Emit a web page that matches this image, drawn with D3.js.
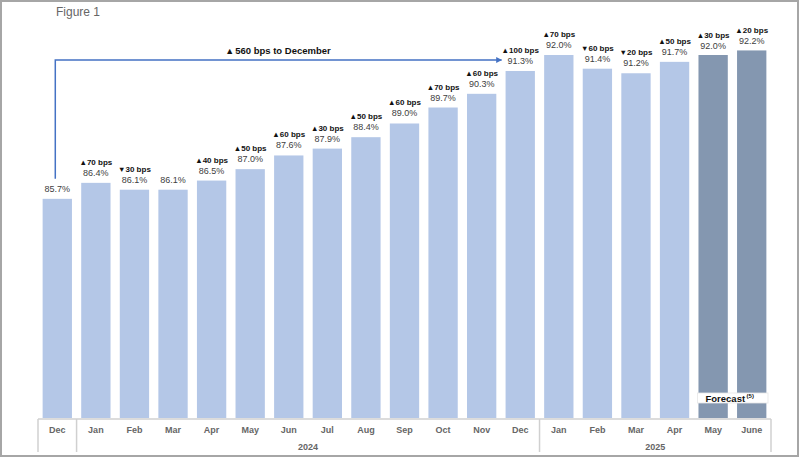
<!DOCTYPE html>
<html>
<head>
<meta charset="utf-8">
<script src="https://cdn.jsdelivr.net/npm/d3@7"></script>
<style>
  html, body { margin: 0; padding: 0; background: #fff; }
  svg { display: block; font-family: "Liberation Sans", Arial, sans-serif; }
</style>
</head>
<body>
<svg id="chart" width="800" height="459"></svg>
<script>
// ---- data ----
const months = ["Dec","Jan","Feb","Mar","Apr","May","Jun","Jul","Aug","Sep","Oct","Nov","Dec","Jan","Feb","Mar","Apr","May","June"];
const values = [85.7,86.4,86.1,86.1,86.5,87.0,87.6,87.9,88.4,89.0,89.7,90.3,91.3,92.0,91.4,91.2,91.7,92.0,92.2];
const changeDir = [null,"up","down",null,"up","up","up","up","up","up","up","up","up","up","down","down","up","up","up"];
const changeBps = [null,70,30,null,40,50,60,30,50,60,70,60,100,70,60,20,50,30,20];
const forecast = [false,false,false,false,false,false,false,false,false,false,false,false,false,false,false,false,false,true,true];
const years = [{label:"2024", from:1, to:12},{label:"2025", from:13, to:18}];
const annotationText = "560 bps to December";
const forecastLabel = "Forecast";
const forecastNote = "(5)";

// ---- layout ----
const svg = d3.select("#chart");
const W = 800, H = 459;
const idx = months.map((d,i)=>i);

const x = d3.scaleBand().domain(idx).range([38, 771]).paddingInner(0.24).paddingOuter(0.12);
const y = d3.scaleLinear().domain([76.1, 92.0]).range([418, 55]);
const step = x.step();
const gapHalf = step * x.paddingInner() / 2;

// frame
svg.append("rect").attr("x",1).attr("y",1).attr("width",W-3).attr("height",H-4)
  .attr("fill","#fff").attr("stroke","#a6a6a6").attr("stroke-width",2);

// title
svg.append("text").attr("x",56).attr("y",16).attr("font-size",12).attr("fill","#666")
  .text("Figure 1");

// bars
svg.append("g").selectAll("rect").data(idx).join("rect")
  .attr("x", i => x(i)).attr("width", x.bandwidth())
  .attr("y", i => y(values[i])).attr("height", i => y.range()[0] - y(values[i]))
  .attr("fill", i => forecast[i] ? "#8497b0" : "#b4c7e7");

// forecast gap
const fIdx = idx.filter(i => forecast[i]);
const fx0 = x(fIdx[0]) - 1, fx1 = x.range()[1] - 3;
svg.append("rect").attr("x", fx0).attr("y", 393).attr("width", fx1 - fx0).attr("height", 10)
  .attr("fill","#fff").attr("stroke","#e6e6e6").attr("stroke-width",0.8);
const ft = svg.append("text").attr("x", (fx0 + fx1)/2 - 3).attr("y", 401.5).attr("text-anchor","middle")
  .attr("font-size",9.5).attr("font-weight","bold").attr("fill","#111");
ft.append("tspan").text(forecastLabel);
ft.append("tspan").attr("font-size",6).attr("dy",-3.5).attr("dx",1.5).text(forecastNote);

// value labels
const lab = svg.append("g");
idx.forEach(i => {
  const cx = x(i) + x.bandwidth()/2;
  const top = y(values[i]);
  const off = forecast[i] ? 6.5 : 7;
  lab.append("text").attr("x", cx).attr("y", top - off).attr("text-anchor","middle")
    .attr("font-size",9).attr("fill","#404040").text(values[i].toFixed(1) + "%");
  if (changeDir[i]) {
    const t = lab.append("text").attr("x", cx).attr("y", top - off - 11).attr("text-anchor","middle")
      .attr("font-size",8).attr("font-weight","bold").attr("fill","#111");
    t.append("tspan").attr("font-size",7.5).text(changeDir[i] === "up" ? "▲" : "▼");
    t.append("tspan").text(changeBps[i] + " bps");
  }
});

// annotation arrow
svg.append("defs").append("marker").attr("id","ah").attr("viewBox","0 0 10 10")
  .attr("refX",9).attr("refY",5).attr("markerWidth",6).attr("markerHeight",6)
  .attr("markerUnits","userSpaceOnUse").attr("orient","auto")
  .append("path").attr("d","M0,0 L10,5 L0,10 z").attr("fill","#4472c4");
const ax0 = x(0) + x.bandwidth()/2 - 2;
const axEnd = x(12) - 4;
svg.append("path")
  .attr("d", `M${ax0},${y(values[0]) - 20} V60 H${axEnd}`)
  .attr("fill","none").attr("stroke","#4472c4").attr("stroke-width",1.5)
  .attr("marker-end","url(#ah)");
const at = svg.append("text").attr("x", 278).attr("y", 54).attr("text-anchor","middle")
  .attr("font-size",9.5).attr("font-weight","bold").attr("fill","#111");
at.append("tspan").attr("font-size",9).text("▲");
at.append("tspan").attr("dx",1).text(annotationText);

// axis
const axisY = 419;
const axG = svg.append("g").attr("transform", `translate(0,${axisY})`)
  .call(d3.axisBottom(x).tickSize(0).tickPadding(8).tickFormat(i => months[i]));
axG.select(".domain").remove();
axG.selectAll("text").attr("font-size",9).attr("font-weight","bold").attr("fill","#666")
  .attr("font-family",'"Liberation Sans", Arial, sans-serif');

const lineColor = "#d0d0d0";
svg.append("line").attr("x1", x.range()[0]).attr("x2", x.range()[1]).attr("y1", axisY).attr("y2", axisY)
  .attr("stroke", lineColor).attr("stroke-width",1.5);
const seps = [x.range()[0], x(1) - gapHalf, x(13) - gapHalf, x.range()[1]];
svg.append("g").selectAll("line").data(seps).join("line")
  .attr("x1", d=>d).attr("x2", d=>d).attr("y1", axisY).attr("y2", 452)
  .attr("stroke", lineColor).attr("stroke-width",1.5);

svg.append("g").selectAll("text").data(years).join("text")
  .attr("x", d => (x(d.from) - gapHalf + (d.to === 18 ? x.range()[1] : x(d.to) + x.bandwidth() + gapHalf)) / 2)
  .attr("y", 449.5).attr("text-anchor","middle")
  .attr("font-size",9).attr("font-weight","bold").attr("fill","#666")
  .text(d => d.label);
</script>
</body>
</html>
